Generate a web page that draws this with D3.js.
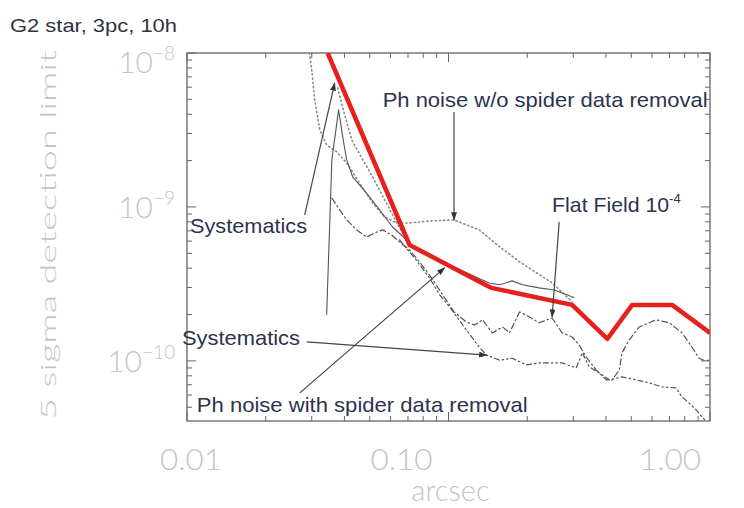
<!DOCTYPE html>
<html>
<head>
<meta charset="utf-8">
<script src="https://cdn.jsdelivr.net/npm/d3@7"></script>
<style>
  body { margin: 0; background: #fff; }
  svg { display: block; }
</style>
</head>
<body>
<svg width="744" height="508"></svg>
<script>
// axis labels
const xTicks = [0.01, 0.1, 1];
const xTickLabels = ["0.01", "0.10", "1.00"];
const yTicks = [1e-8, 1e-9, 1e-10];
const yTickExponents = ["\u22128", "\u22129", "\u221210"];

// thick red envelope
const redLimit = [[0.0345, 1e-8], [0.0710, 5.66e-10], [0.146, 2.98e-10], [0.297, 2.31e-10],
  [0.405, 1.39e-10], [0.504, 2.31e-10], [0.716, 2.31e-10], [1.0, 1.52e-10]];

// Ph noise w/o spider data removal (dotted)
const phNoiseNoRemoval = [[0.0294, 1e-8], [0.0300, 7.76e-9], [0.0308, 4.95e-9], [0.0322, 3.16e-9],
  [0.0342, 2.53e-9], [0.0374, 2.28e-9], [0.0408, 1.93e-9], [0.0457, 1.43e-9], [0.0513, 1.06e-9],
  [0.0570, 8.61e-10], [0.0634, 7.87e-10], [0.0710, 7.87e-10], [0.0846, 8.11e-10], [0.105, 8.24e-10],
  [0.131, 7.10e-10], [0.157, 5.50e-10], [0.187, 4.40e-10], [0.249, 3.21e-10], [0.297, 2.42e-10]];

// second dotted curve, just left of the red line
const dottedInner = [[0.0377, 5.93e-9], [0.0401, 3.95e-9], [0.0427, 2.72e-9], [0.0466, 2.08e-9],
  [0.0508, 1.61e-9], [0.0570, 1.11e-9], [0.0650, 7.31e-10], [0.0710, 5.75e-10]];

// systematics (thin solid)
const systematics = [[0.0342, 1.99e-10], [0.0358, 2.02e-9], [0.0380, 4.27e-9], [0.0394, 2.85e-9],
  [0.0408, 2.02e-9], [0.0430, 1.57e-9], [0.0486, 1.23e-9], [0.0545, 9.57e-10], [0.0611, 7.41e-10],
  [0.0692, 6.10e-10], [0.0729, 5.50e-10], [0.101, 4.20e-10], [0.143, 3.21e-10], [0.157, 3.12e-10],
  [0.175, 3.31e-10], [0.192, 3.12e-10], [0.222, 2.98e-10], [0.254, 2.89e-10], [0.303, 2.57e-10]];

// flat field 1e-4 (dash-dot)
const flatField = [[0.0358, 1.14e-9], [0.0384, 9.57e-10], [0.0408, 8.24e-10], [0.0445, 7.10e-10],
  [0.0486, 6.38e-10], [0.0522, 6.78e-10], [0.0560, 7.10e-10], [0.0606, 6.58e-10], [0.0650, 5.93e-10],
  [0.0710, 5.26e-10], [0.0774, 4.40e-10], [0.0846, 3.61e-10], [0.0949, 2.69e-10], [0.105, 2.08e-10],
  [0.117, 1.79e-10], [0.126, 1.71e-10], [0.135, 1.85e-10], [0.147, 1.52e-10], [0.161, 1.66e-10],
  [0.171, 1.52e-10], [0.187, 2.08e-10], [0.204, 1.93e-10], [0.222, 1.77e-10], [0.249, 1.90e-10],
  [0.272, 1.52e-10], [0.297, 1.43e-10], [0.316, 1.27e-10], [0.336, 1.06e-10], [0.367, 8.75e-11],
  [0.401, 7.53e-11], [0.423, 7.53e-11], [0.450, 8.75e-11], [0.461, 1.13e-10], [0.491, 1.37e-10],
  [0.536, 1.66e-10], [0.622, 1.85e-10], [0.698, 1.77e-10], [0.782, 1.52e-10], [0.853, 1.23e-10],
  [0.908, 1.04e-10], [0.948, 1.01e-10], [1.0, 1.01e-10]];

// lower curve (dash-dot-dot), systematics after removal
const lowerCurve = [[0.0650, 6.10e-10], [0.0741, 4.67e-10], [0.0846, 3.46e-10], [0.0925, 2.69e-10],
  [0.101, 2.24e-10], [0.117, 1.59e-10], [0.131, 1.23e-10], [0.140, 1.09e-10], [0.157, 1.01e-10],
  [0.175, 1.04e-10], [0.199, 9.42e-11], [0.222, 9.70e-11], [0.272, 9.70e-11], [0.308, 9.01e-11],
  [0.325, 1.13e-10], [0.345, 9.14e-11], [0.377, 8.36e-11], [0.412, 7.53e-11], [0.461, 7.87e-11],
  [0.522, 7.53e-11], [0.585, 7.20e-11], [0.656, 6.78e-11], [0.741, 6.68e-11], [0.782, 5.83e-11],
  [0.832, 5.33e-11], [0.885, 4.81e-11], [0.931, 4.33e-11], [0.966, 4.07e-11]];

// annotations: text, anchor (data units), and arrow from -> to
const labels = [
  { text: "Ph noise w/o spider data removal", at: [0.0560, 4.46e-9], len: 325 },
  { text: "Systematics", at: [0.01027, 6.78e-10], len: 117 },
  { text: "Flat Field 10", sup: "-4", at: [0.249, 9.29e-10], len: 117 },
  { text: "Systematics", at: [0.00957, 1.27e-10], len: 118 },
  { text: "Ph noise with spider data removal", at: [0.0109, 4.67e-11], len: 331 }
];
const arrows = [
  [[0.105, 4.14e-9], [0.105, 8.24e-10]],
  [[0.0282, 8.87e-10], [0.0367, 6.38e-9]],
  [[0.265, 8.00e-10], [0.249, 1.93e-10]],
  [[0.0287, 1.33e-10], [0.140, 1.09e-10]],
  [[0.0270, 6.20e-11], [0.0966, 4.02e-10]]
];

let svg = d3.select("svg"),
    width = +svg.attr("width"),
    height = +svg.attr("height");
const margin = { top: 53, right: 34, bottom: 87, left: 187 };

const x = d3.scaleLog().domain([0.01, 1]).range([margin.left, width - margin.right]);
const y = d3.scaleLog().domain([4.07e-11, 1e-8]).range([height - margin.bottom, margin.top]);

const ink = "#2c3350";
const pale = "#c4c4c4";

svg.append("defs").append("clipPath").attr("id", "plot")
  .append("rect")
    .attr("x", x.range()[0]).attr("y", y.range()[1])
    .attr("width", x.range()[1] - x.range()[0])
    .attr("height", y.range()[0] - y.range()[1]);

svg.select("defs").append("marker")
    .attr("id", "head")
    .attr("viewBox", "0 0 10 10")
    .attr("refX", 9).attr("refY", 5)
    .attr("markerWidth", 7).attr("markerHeight", 7)
    .attr("orient", "auto")
  .append("path")
    .attr("d", "M0,1.5L10,5L0,8.5Z")
    .attr("fill", "#333");

// title
svg.append("text")
    .attr("x", 10).attr("y", 32)
    .attr("font-family", "Liberation Sans, Arial, sans-serif")
    .attr("font-size", 19)
    .attr("fill", "#2f343c")
    .attr("textLength", 167)
    .attr("lengthAdjust", "spacingAndGlyphs")
    .text("G2 star, 3pc, 10h");

// frame ticks (inward, on all four sides, IDL style)
const isMajor = v => Math.abs(Math.log10(v) - Math.round(Math.log10(v))) < 1e-6;
const tickG = svg.append("g").attr("stroke", "#666").attr("stroke-width", 1);
const [x0, x1] = x.range(), [yb, yt] = y.range();

x.ticks().forEach(v => {
  const len = isMajor(v) ? 9 : 5;
  tickG.append("line").attr("x1", x(v)).attr("x2", x(v)).attr("y1", yt).attr("y2", yt + len);
  tickG.append("line").attr("x1", x(v)).attr("x2", x(v)).attr("y1", yb).attr("y2", yb - len);
});
y.ticks().forEach(v => {
  const len = isMajor(v) ? 9 : 5;
  tickG.append("line").attr("x1", x0).attr("x2", x0 + len).attr("y1", y(v)).attr("y2", y(v));
  tickG.append("line").attr("x1", x1).attr("x2", x1 - len).attr("y1", y(v)).attr("y2", y(v));
});

svg.append("rect")
    .attr("x", x0).attr("y", yt)
    .attr("width", x1 - x0).attr("height", yb - yt)
    .attr("fill", "none")
    .attr("stroke", "#666")
    .attr("stroke-width", 1.3);

// tick labels in a pale thin face
const labelFont = "Lato, Open Sans, sans-serif";
const xLabelShift = [4, -47, -40]; // labels in the source sit off the tick marks
svg.append("g").selectAll("text")
  .data(xTicks)
  .enter().append("text")
    .attr("x", (d, i) => x(d) + xLabelShift[i])
    .attr("y", yb + 49)
    .attr("text-anchor", "middle")
    .attr("font-family", labelFont)
    .attr("font-weight", 300)
    .attr("font-size", 30)
    .attr("fill", pale)
    .attr("textLength", 62)
    .attr("lengthAdjust", "spacingAndGlyphs")
    .text((d, i) => xTickLabels[i]);

const yl = svg.append("g").selectAll("text")
  .data(yTicks)
  .enter().append("text")
    .attr("x", x0 - 12)
    .attr("y", d => Math.max(y(d) + 11, yt + 20))
    .attr("text-anchor", "end")
    .attr("font-family", labelFont)
    .attr("font-weight", 300)
    .attr("font-size", 30)
    .attr("fill", pale);
yl.append("tspan").text("10");
yl.append("tspan")
    .attr("font-size", 19)
    .attr("dy", -13)
    .text((d, i) => yTickExponents[i]);

svg.append("text")
    .attr("x", (x0 + x1) / 2 + 2)
    .attr("y", height - 7)
    .attr("text-anchor", "middle")
    .attr("font-family", labelFont)
    .attr("font-weight", 300)
    .attr("font-size", 29)
    .attr("fill", pale)
    .text("arcsec");

svg.append("text")
    .attr("transform", `translate(56,${(50 + 420) / 2}) rotate(-90)`)
    .attr("text-anchor", "middle")
    .attr("font-family", labelFont)
    .attr("font-weight", 300)
    .attr("font-size", 22)
    .attr("fill", pale)
    .attr("textLength", 370)
    .attr("lengthAdjust", "spacingAndGlyphs")
    .text("5 sigma detection limit");

// curves
const line = d3.line().x(d => x(d[0])).y(d => y(d[1]));
const plot = svg.append("g").attr("clip-path", "url(#plot)");

const series = [
  { data: phNoiseNoRemoval, stroke: "#8a8a8a", width: 1.6, dash: "1.2,3" },
  { data: dottedInner, stroke: "#8a8a8a", width: 1.6, dash: "1.2,3" },
  { data: flatField, stroke: "#555", width: 1.2, dash: "6,3,1.5,3" },
  { data: lowerCurve, stroke: "#555", width: 1.2, dash: "5,3,1.5,3,1.5,3" },
  { data: systematics, stroke: "#555", width: 1.1, dash: null },
  { data: redLimit, stroke: "#e5201d", width: 4.5, dash: null }
];
plot.selectAll("path.curve")
  .data(series)
  .enter().append("path")
    .attr("class", "curve")
    .attr("d", d => line(d.data))
    .attr("fill", "none")
    .attr("stroke", d => d.stroke)
    .attr("stroke-width", d => d.width)
    .attr("stroke-dasharray", d => d.dash)
    .attr("stroke-linejoin", "round")
    .attr("stroke-linecap", d => d.dash ? "round" : "butt");

// annotation arrows
svg.append("g").selectAll("line")
  .data(arrows)
  .enter().append("line")
    .attr("x1", d => x(d[0][0])).attr("y1", d => y(d[0][1]))
    .attr("x2", d => x(d[1][0])).attr("y2", d => y(d[1][1]))
    .attr("stroke", "#444")
    .attr("stroke-width", 1.2)
    .attr("marker-end", "url(#head)");

// annotation texts
const lab = svg.append("g").selectAll("text")
  .data(labels)
  .enter().append("text")
    .attr("x", d => x(d.at[0]))
    .attr("y", d => y(d.at[1]))
    .attr("font-family", "Liberation Sans, Arial, sans-serif")
    .attr("font-size", 21)
    .attr("fill", ink);
lab.append("tspan")
    .attr("textLength", d => d.len)
    .attr("lengthAdjust", "spacingAndGlyphs")
    .text(d => d.text);
lab.filter(d => d.sup).append("tspan")
    .attr("font-size", 13)
    .attr("dy", -9)
    .text(d => d.sup);
</script>
</body>
</html>
